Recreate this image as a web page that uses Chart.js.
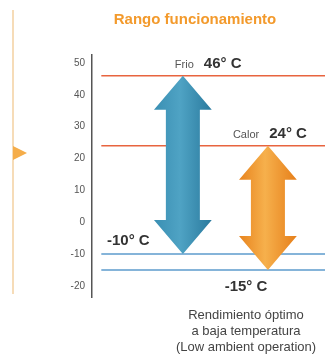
<!DOCTYPE html>
<html>
<head>
<meta charset="utf-8">
<script src="https://cdn.jsdelivr.net/npm/chart.js@4.4.0/dist/chart.umd.min.js"></script>
<style>
  html, body { margin: 0; padding: 0; background: #fff; }
  #wrap { position: relative; width: 325px; height: 363px; }
</style>
</head>
<body>
<div id="wrap"><canvas id="grafico"></canvas></div>
<script>
// datos del grafico
const titulo = 'Rango funcionamiento';
const marcasY = [50, 40, 30, 20, 10, 0, -10, -20];
const modos = ['Frio', 'Calor'];
const rangoDesde = [-10, -15];
const rangoHasta = [46, 24];
const posicionX = [39, 75.5];
const limites = [46, 24, -10, -15];
const coloresLimite = ['#e8643f', '#e8643f', '#5d9bcc', '#5d9bcc'];
const nota = ['Rendimiento óptimo', 'a baja temperatura', '(Low ambient operation)'];

const FUENTE = '"Liberation Sans", Arial, sans-serif';

// colores de las flechas (degradado izq, centro, der)
const degradados = [
	['#3a8fb3', '#4fa3c4', '#2a7a9e'],
	['#e8841e', '#f6b04c', '#e67f1a']
];

// Dibuja las barras flotantes como flechas de doble punta
const flechas = {
	id: 'flechas',
	afterDatasetsDraw(chart) {
		const ctx = chart.ctx;
		const meta = chart.getDatasetMeta(0);
		meta.data.forEach((el, i) => {
			const p = el.getProps(['x', 'y', 'base', 'width'], true);
			const m = p.width / 2;
			const ancho = p.width * 0.85;
			const largo = p.width;
			const arriba = Math.min(p.y, p.base);
			const abajo = Math.max(p.y, p.base);
			const g = ctx.createLinearGradient(p.x - ancho, 0, p.x + ancho, 0);
			g.addColorStop(0, degradados[i][0]);
			g.addColorStop(0.45, degradados[i][1]);
			g.addColorStop(1, degradados[i][2]);
			ctx.save();
			ctx.fillStyle = g;
			ctx.beginPath();
			ctx.moveTo(p.x, arriba);
			ctx.lineTo(p.x + ancho, arriba + largo);
			ctx.lineTo(p.x + m, arriba + largo);
			ctx.lineTo(p.x + m, abajo - largo);
			ctx.lineTo(p.x + ancho, abajo - largo);
			ctx.lineTo(p.x, abajo);
			ctx.lineTo(p.x - ancho, abajo - largo);
			ctx.lineTo(p.x - m, abajo - largo);
			ctx.lineTo(p.x - m, arriba + largo);
			ctx.lineTo(p.x - ancho, arriba + largo);
			ctx.closePath();
			ctx.fill();
			ctx.restore();
		});
	}
};

// Textos y decoracion
const textos = {
	id: 'textos',
	beforeDraw(chart) {
		const ctx = chart.ctx;
		ctx.save();
		// linea lateral y triangulo
		ctx.fillStyle = '#f6dcb8';
		ctx.fillRect(12, 10, 2, 284);
		ctx.fillStyle = '#f5ad4a';
		ctx.beginPath();
		ctx.moveTo(13, 146);
		ctx.lineTo(27, 153);
		ctx.lineTo(13, 160);
		ctx.closePath();
		ctx.fill();
		// titulo
		ctx.fillStyle = '#f39a2c';
		ctx.font = 'bold 15px ' + FUENTE;
		ctx.textAlign = 'center';
		ctx.textBaseline = 'middle';
		ctx.fillText(titulo, 195, 20);
		ctx.restore();
	},
	afterDraw(chart) {
		const ctx = chart.ctx;
		const y = chart.scales.y;
		const meta = chart.getDatasetMeta(0);
		ctx.save();
		ctx.textBaseline = 'alphabetic';
		ctx.textAlign = 'left';
		// etiquetas de los modos
		const desplaz = [-8, -35];
		modos.forEach((nombre, i) => {
			const x0 = meta.data[i].x + desplaz[i];
			const yb = y.getPixelForValue(rangoHasta[i]) - 8;
			ctx.font = '11px ' + FUENTE;
			ctx.fillStyle = '#555';
			ctx.fillText(nombre, x0, yb);
			const w = ctx.measureText(nombre).width;
			ctx.font = 'bold 15px ' + FUENTE;
			ctx.fillStyle = '#333';
			ctx.fillText(rangoHasta[i] + '° C', x0 + w + 10, yb);
		});
		// limites inferiores
		ctx.font = 'bold 15px ' + FUENTE;
		ctx.fillStyle = '#333';
		ctx.fillText(rangoDesde[0] + '° C', 107, y.getPixelForValue(rangoDesde[0]) - 9);
		ctx.textAlign = 'center';
		ctx.fillText(rangoDesde[1] + '° C', 246, y.getPixelForValue(rangoDesde[1]) + 21);
		// nota
		ctx.font = '13px ' + FUENTE;
		ctx.fillStyle = '#444';
		nota.forEach((t, i) => ctx.fillText(t, 246, 319 + i * 16));
		ctx.restore();
	}
};

const conjuntos = [{
	type: 'bar',
	data: modos.map((m, i) => ({ x: posicionX[i], y: [rangoDesde[i], rangoHasta[i]] })),
	backgroundColor: 'rgba(0,0,0,0)',
	barThickness: 34,
	order: 1
}];
limites.forEach((v, i) => {
	conjuntos.push({
		type: 'line',
		data: [{ x: 4, y: v }, { x: 100, y: v }],
		borderColor: coloresLimite[i],
		borderWidth: 1.5,
		pointRadius: 0,
		order: 2
	});
});

new Chart(document.getElementById('grafico'), {
	type: 'bar',
	data: { datasets: conjuntos },
	options: {
		responsive: true,
		maintainAspectRatio: false,
		animation: false,
		events: [],
		layout: { padding: { left: 52, top: 55, right: 0, bottom: 66 } },
		plugins: { legend: { display: false }, tooltip: { enabled: false } },
		scales: {
			x: { type: 'linear', min: 0, max: 100, offset: false, display: false },
			y: {
				min: -23.5,
				max: 52.5,
				afterBuildTicks: (s) => { s.ticks = marcasY.map(v => ({ value: v })); },
				afterFit: (s) => { s.width = 40; },
				grid: { display: false, drawTicks: false },
				border: { display: true, color: '#555', width: 1.5 },
				ticks: { padding: 7, color: '#555', font: { size: 10, family: FUENTE } }
			}
		}
	},
	plugins: [flechas, textos]
});
</script>
</body>
</html>
